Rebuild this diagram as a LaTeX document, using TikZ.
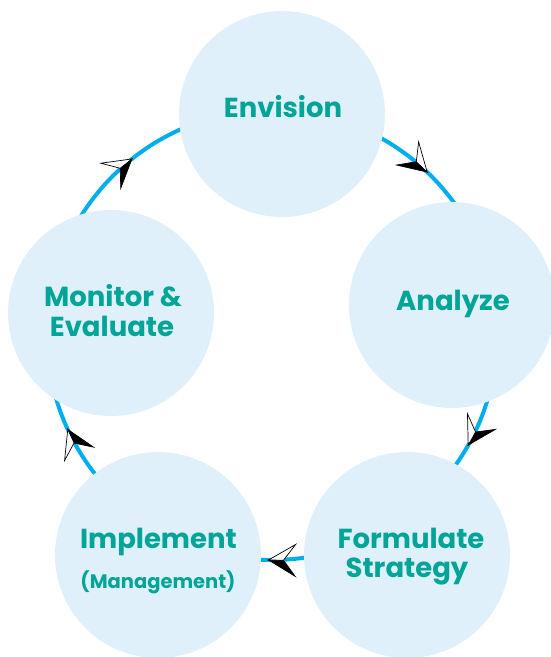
\documentclass[tikz,border=0pt]{standalone}
\usepackage{fontspec}
\setmainfont{Poppins}
\usetikzlibrary{calc}
\definecolor{ringblue}{HTML}{00AEEF}
\definecolor{bubblefill}{HTML}{DFF0FB}
\definecolor{tealtext}{HTML}{00A597}
\tikzset{
  bubble/.style={circle, fill=bubblefill, minimum size=206pt, inner sep=0pt},
  lbl/.style={text=tealtext, font=\bfseries\fontsize{27.5}{32}\selectfont, anchor=base, inner sep=0pt},
  sublbl/.style={lbl, font=\bfseries\fontsize{19.5}{23}\selectfont},
  ring/.style={draw=ringblue, line width=4pt},
  arrowedge/.style={draw=black, line width=0.7pt, line join=miter},
}
\newcommand\flowarrow[2]{%
  \begin{scope}[shift={($(rc)+(#1:225pt)$)}, rotate=#1-90, yscale=#2]
    \filldraw[fill=black, arrowedge] (0,0) -- (-27,-16) -- (-15,0) -- cycle;
    \filldraw[fill=white, arrowedge] (0,0) -- (-15,0) -- (-27,16) -- cycle;
  \end{scope}}
\begin{document}
\begin{tikzpicture}[x=1pt,y=1pt]
\clip (0,0) rectangle (551,-657);
\coordinate (rc) at (272,-335);
\draw[ring] (rc) circle (225pt);
\node[bubble] (env) at (282,-114) {};
\node[bubble] (ana) at (452,-305) {};
\node[bubble] (for) at (407,-555) {};
\node[bubble] (imp) at (158,-555) {};
\node[bubble] (mon) at (111,-313) {};
\node[lbl] (envT) at (283,-117) {Envision};
\node[lbl] (anaT) at (453,-310) {Analyze};
\node[lbl] (forT1) at (411,-548.3) {Formulate};
\node[lbl] (forT2) at (407,-577.3) {Strategy};
\node[lbl] (impT1) at (158.4,-548.3) {Implement};
\node[sublbl] (impT2) at (158,-588.3) {(Management)};
\node[lbl] (monT1) at (113,-306.7) {Monitor \&};
\node[lbl] (monT2) at (112,-336.7) {Evaluate};
\flowarrow{128.5}{1}
\flowarrow{46.4}{1}
\flowarrow{-29.3}{-1}
\flowarrow{-90.9}{-1}
\flowarrow{-155.2}{1}
\end{tikzpicture}
\end{document}
